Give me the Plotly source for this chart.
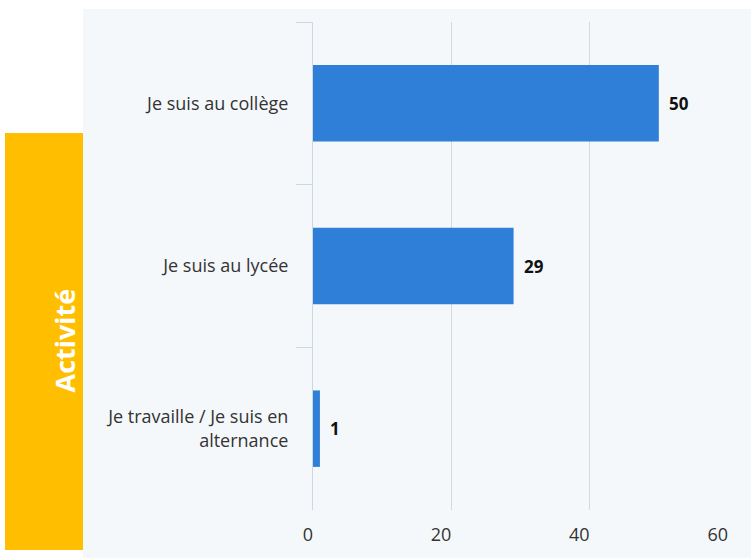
import plotly.graph_objects as go

categories = ["Je suis au collège", "Je suis au lycée", "Je travaille / Je suis en<br>alternance"]
values = [50, 29, 1]
x_ticks = [0, 20, 40, 60]

W, H = 751, 558
L, R, T, B = 313, 728, 22, 510
PW, PH = R - L, B - T

def px(x):
    return (x - L) / PW

def py(y):
    return (B - y) / PH

fig = go.Figure()
fig.add_trace(go.Bar(
    y=categories, x=values, orientation="h",
    marker=dict(color="#2f7ed8", line=dict(width=0)),
    width=0.47, hoverinfo="skip",
))
for c, v in zip(categories, values):
    fig.add_annotation(x=v, y=c, text=f"<b>{v}</b>", showarrow=False,
                       xanchor="left", xshift=8, yshift=0,
                       font=dict(family="Open Sans", size=17, color="#111111"))

# panel background
fig.add_shape(type="rect", xref="paper", yref="paper",
              x0=px(83), x1=px(751), y0=py(558), y1=py(9),
              fillcolor="#f5f8fb", line=dict(width=0), layer="below")
# yellow label box
fig.add_shape(type="rect", xref="paper", yref="paper",
              x0=px(5), x1=px(83), y0=py(550), y1=py(133),
              fillcolor="#ffbf00", line=dict(width=0), layer="below")
fig.add_annotation(xref="paper", yref="paper", x=px(43), y=py(341),
                   text="<b>Activité</b>", textangle=-90, showarrow=False,
                   font=dict(family="Open Sans", size=27, color="white"))

fig.update_layout(
    width=W, height=H,
    margin=dict(l=L, r=W - R, t=T, b=H - B),
    paper_bgcolor="white", plot_bgcolor="rgba(0,0,0,0)",
    showlegend=False, bargap=0.53,
    font=dict(family="Open Sans", size=18, color="#333333"),
    xaxis=dict(range=[0, 60], tickvals=x_ticks, showgrid=True, gridcolor="#d8d8d8",
               gridwidth=1, zeroline=False, showline=False, ticks="",
               tickfont=dict(size=18, color="#333333"), ticklabelstandoff=12,
               ticklabelposition="outside left", fixedrange=True),
    yaxis=dict(categoryorder="array", categoryarray=categories, autorange="reversed",
               showline=True, linecolor="#cfd6e0", linewidth=1,
               ticks="outside", tickson="boundaries", ticklen=16, tickcolor="#cfd6e0",
               showgrid=False, zeroline=False, tickfont=dict(size=18, color="#333333"),
               ticklabelstandoff=20, fixedrange=True),
)
fig.write_html("out.html", config={"displayModeBar": False},
               post_script="document.body.style.margin='0';")
